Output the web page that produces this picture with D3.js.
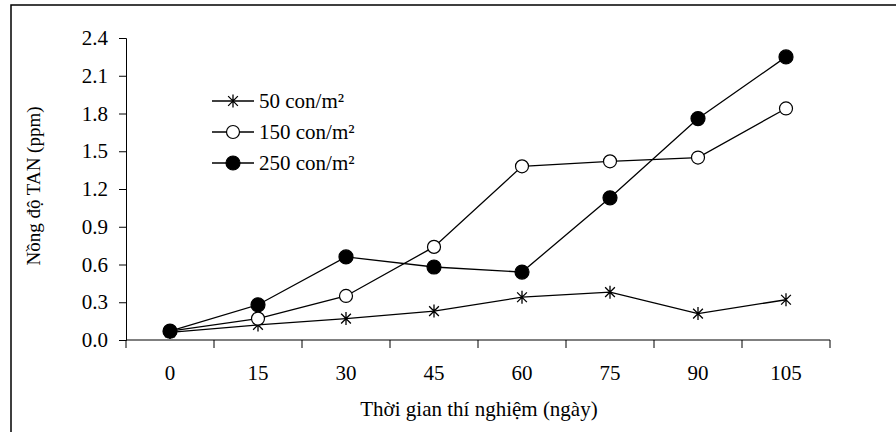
<!DOCTYPE html>
<html>
<head>
<meta charset="utf-8">
<script src="https://cdn.jsdelivr.net/npm/d3@7"></script>
<style>
  body { margin: 0; background: #fff; }
  svg text { font-family: "Liberation Serif", "Times New Roman", serif; fill: #000; }
</style>
</head>
<body>
<div id="chart"></div>
<script>
const days = ["0", "15", "30", "45", "60", "75", "90", "105"];
const yTicks = [0, 0.3, 0.6, 0.9, 1.2, 1.5, 1.8, 2.1, 2.4];
const seriesNames = ["50 con/m²", "150 con/m²", "250 con/m²"];
const d50 = [0.06, 0.12, 0.17, 0.23, 0.34, 0.38, 0.21, 0.32];
const d150 = [0.07, 0.17, 0.35, 0.74, 1.38, 1.42, 1.45, 1.84];
const d250 = [0.07, 0.28, 0.66, 0.58, 0.54, 1.13, 1.76, 2.25];
const markers = ["star", "open", "filled"];

const W = 896, H = 432;
const serif = '"Liberation Serif", "Times New Roman", serif';
const svg = d3.select("#chart").append("svg")
    .attr("width", W)
    .attr("height", H);

// outer frame (right/bottom edges fall outside the picture)
svg.append("rect")
    .attr("x", 11).attr("y", 5)
    .attr("width", 900).attr("height", 440)
    .attr("fill", "none")
    .attr("stroke", "#000")
    .attr("stroke-width", 1.5);

const x = d3.scaleBand().domain(days).range([126, 830]);
const y = d3.scaleLinear().domain([0, 2.4]).range([340, 38]);

// y axis
const yAxis = svg.append("g")
    .attr("transform", "translate(126,0)")
    .attr("font-family", serif)
    .call(d3.axisLeft(y).tickValues(yTicks).tickFormat(d3.format(".1f")).tickSize(7).tickPadding(11));
yAxis.selectAll("text").style("font-size", "21px").style("font-family", serif);
yAxis.select(".domain").attr("stroke", "#000");
yAxis.selectAll(".tick line").attr("stroke", "#000");

// x axis: ticks between categories
const xAxis = svg.append("g").attr("transform", "translate(0,340)");
xAxis.append("line")
    .attr("x1", 126).attr("x2", 830)
    .attr("stroke", "#000");
xAxis.selectAll(".tk")
    .data(days.concat(["end"]))
    .join("line")
    .attr("class", "tk")
    .attr("x1", (d, i) => 126 + i * x.bandwidth())
    .attr("x2", (d, i) => 126 + i * x.bandwidth())
    .attr("y1", 0).attr("y2", 8)
    .attr("stroke", "#000");
xAxis.selectAll(".lbl")
    .data(days)
    .join("text")
    .attr("class", "lbl")
    .attr("x", d => x(d) + x.bandwidth() / 2)
    .attr("y", 40)
    .attr("text-anchor", "middle")
    .style("font-size", "21px")
    .style("font-family", serif)
    .text(d => d);

// axis titles
svg.append("text")
    .attr("x", 479).attr("y", 416)
    .attr("text-anchor", "middle")
    .style("font-size", "21px")
    .style("font-family", serif)
    .text("Thời gian thí nghiệm (ngày)");

svg.append("text")
    .attr("transform", "translate(40,186) rotate(-90)")
    .attr("text-anchor", "middle")
    .style("font-size", "19px")
    .style("font-family", serif)
    .text("Nồng độ TAN (ppm)");

function drawMarker(g, type, cx, cy) {
    if (type === "star") {
        const r = 6.5, k = r * 0.75;
        g.append("path")
            .attr("d", `M${cx},${cy - r}L${cx},${cy + r}M${cx - k},${cy - k}L${cx + k},${cy + k}M${cx - k},${cy + k}L${cx + k},${cy - k}`)
            .attr("stroke", "#000").attr("stroke-width", 1.3).attr("fill", "none");
    } else {
        g.append("circle")
            .attr("cx", cx).attr("cy", cy).attr("r", type === "open" ? 6.5 : 7)
            .attr("fill", type === "open" ? "#fff" : "#000")
            .attr("stroke", "#000").attr("stroke-width", 1.2);
    }
}

const series = [d50, d150, d250];
const line = d3.line()
    .x((d, i) => x(days[i]) + x.bandwidth() / 2)
    .y(d => y(d));

series.forEach(vals => {
    svg.append("path")
        .attr("d", line(vals))
        .attr("fill", "none")
        .attr("stroke", "#000")
        .attr("stroke-width", 1.3);
});
series.forEach((vals, s) => {
    const g = svg.append("g");
    vals.forEach((v, i) => drawMarker(g, markers[s], x(days[i]) + x.bandwidth() / 2, y(v)));
});

// legend
const leg = svg.append("g");
seriesNames.forEach((name, i) => {
    const ly = 101 + i * 31;
    leg.append("line")
        .attr("x1", 212).attr("x2", 254)
        .attr("y1", ly).attr("y2", ly)
        .attr("stroke", "#000").attr("stroke-width", 1.3);
    drawMarker(leg, markers[i], 233, ly);
    leg.append("text")
        .attr("x", 259).attr("y", ly + 7)
        .style("font-size", "21px")
        .style("font-family", serif)
        .text(name);
});
</script>
</body>
</html>
